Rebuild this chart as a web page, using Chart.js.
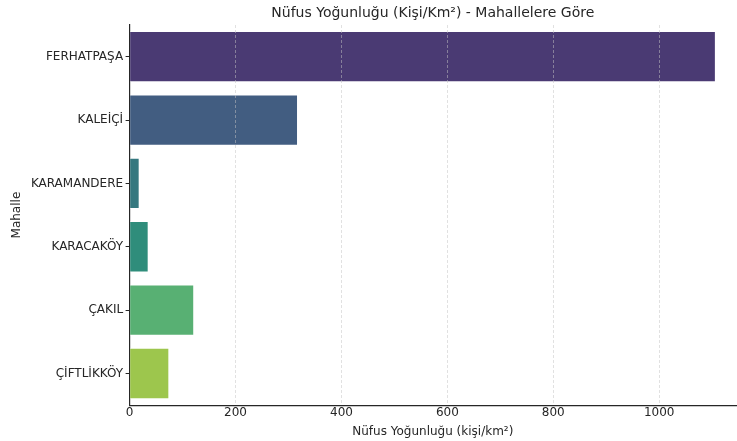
<!DOCTYPE html>
<html>
<head>
<meta charset="utf-8">
<script src="https://cdn.jsdelivr.net/npm/chart.js@4"></script>
<style>
  html, body { margin: 0; padding: 0; background: #fff; }
  #wrap { width: 737px; height: 441px; }
</style>
</head>
<body>
<div id="wrap"><canvas id="densityChart"></canvas></div>
<script>
const neighbourhoods = ['FERHATPAŞA', 'KALEİÇİ', 'KARAMANDERE', 'KARACAKÖY', 'ÇAKIL', 'ÇİFTLİKKÖY'];
const density = [1107, 318, 19, 36, 122, 75];
const xTicks = [0, 200, 400, 600, 800, 1000];
const barColors = ['#4a3a73', '#425d81', '#35787f', '#2f8d7b', '#58b073', '#9dc64d'];
const chartTitle = 'Nüfus Yoğunluğu (Kişi/Km²) - Mahallelere Göre';

const textColor = '#262626';
const font = 'DejaVu Sans';

// title centred over the plot area (like matplotlib's ax.set_title)
const plotTitle = {
  id: 'plotTitle',
  afterDraw(chart) {
    const { ctx, chartArea } = chart;
    ctx.save();
    ctx.fillStyle = textColor;
    ctx.font = '14px "' + font + '"';
    ctx.textAlign = 'center';
    ctx.textBaseline = 'middle';
    ctx.fillText(chartTitle, (chartArea.left + chartArea.right) / 2, 13);
    ctx.restore();
  }
};

const ctx = document.getElementById('densityChart');
new Chart(ctx, {
  type: 'bar',
  data: {
    labels: neighbourhoods,
    datasets: [{
      data: density,
      backgroundColor: barColors,
      borderColor: 'rgba(255,255,255,0.4)',
      borderWidth: 1,
      barPercentage: 0.81,
      categoryPercentage: 1.0
    }]
  },
  options: {
    indexAxis: 'y',
    responsive: true,
    maintainAspectRatio: false,
    animation: false,
    layout: { padding: { top: 25, right: 1, left: 10, bottom: 2 } },
    plugins: {
      legend: { display: false },
      tooltip: { enabled: false },
      title: { display: false }
    },
    scales: {
      x: {
        min: 0,
        max: 1145,
        afterBuildTicks: (scale) => {
          scale.ticks = xTicks.map(v => ({ value: v }));
        },
        ticks: {
          color: textColor,
          font: { family: font, size: 12 },
          padding: 0.5,
          callback: (v) => String(v)
        },
        grid: {
          color: (c) => c.tick && c.tick.value === 0 ? 'rgba(0,0,0,0)' : 'rgba(195,195,195,0.5)',
          lineWidth: 1,
          tickLength: 0,
          z: 1
        },
        border: { display: true, color: '#262626', width: 1.2, dash: [3, 2], z: 1 },
        title: {
          display: true,
          text: 'Nüfus Yoğunluğu (kişi/km²)',
          color: textColor,
          font: { family: font, size: 12 },
          padding: { top: 4, bottom: 0 }
        }
      },
      y: {
        ticks: {
          color: textColor,
          font: { family: font, size: 12 },
          padding: 2.5
        },
        grid: {
          offset: false,
          drawOnChartArea: false,
          drawTicks: true,
          tickLength: 4,
          color: '#262626'
        },
        border: { display: true, color: '#262626', width: 1.2 },
        title: {
          display: true,
          text: 'Mahalle',
          color: textColor,
          font: { family: font, size: 12 },
          padding: { top: 0, bottom: 4 }
        }
      }
    }
  },
  plugins: [plotTitle]
});
</script>
</body>
</html>
